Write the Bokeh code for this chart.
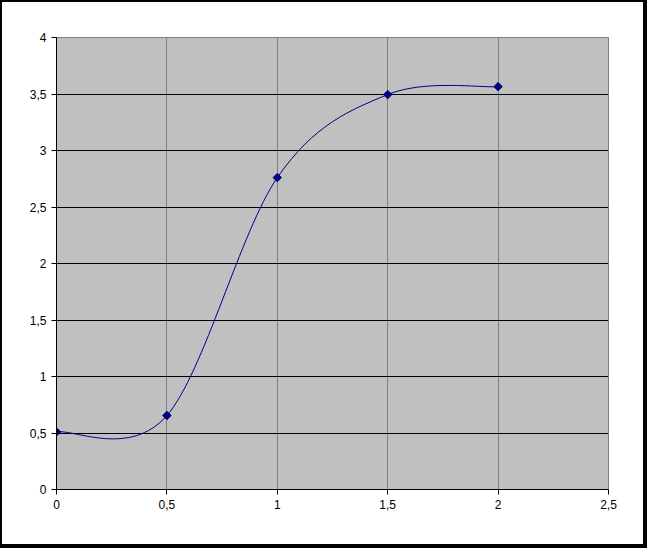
import numpy as np
from bokeh.plotting import figure
from bokeh.models import FixedTicker, Range1d
from bokeh.embed import file_html
from bokeh.resources import INLINE

# data
x_vals = [0.0, 0.5, 1.0, 1.5, 2.0]
y_vals = [0.51, 0.655, 2.76, 3.495, 3.565]
x_ticks = [0, 0.5, 1, 1.5, 2, 2.5]
x_tick_labels = ["0", "0,5", "1", "1,5", "2", "2,5"]
y_ticks = [0, 0.5, 1, 1.5, 2, 2.5, 3, 3.5, 4]
y_tick_labels = ["0", "0,5", "1", "1,5", "2", "2,5", "3", "3,5", "4"]

FONT = "Liberation Sans"
NAVY = "#000080"

p = figure(width=647, height=548, output_backend="svg", toolbar_location=None,
           x_range=Range1d(0, 2.5), y_range=Range1d(0, 4))
p.min_border_left = 54
p.min_border_right = 41
p.min_border_top = 35
p.min_border_bottom = 61
p.background_fill_color = "#C0C0C0"
p.border_fill_color = "white"
p.outline_line_color = "#808080"
p.outline_line_width = 1
p.styles = {"border-style": "solid", "border-color": "black",
            "border-width": "2px 4px 4px 2px"}

# axes
for ax in (p.xaxis[0], p.yaxis[0]):
    ax.axis_line_color = "black"
    ax.axis_line_width = 1
    ax.major_tick_line_color = "black"
    ax.major_tick_in = 0
    ax.major_tick_out = 5
    ax.minor_tick_line_color = None
    ax.major_label_text_font = FONT
    ax.major_label_text_font_size = "12px"
    ax.major_label_text_color = "black"
    ax.major_label_standoff = 5

p.xaxis.ticker = FixedTicker(ticks=x_ticks)
p.yaxis.ticker = FixedTicker(ticks=y_ticks)
p.xaxis.major_label_overrides = {t: l for t, l in zip(x_ticks, x_tick_labels)}
p.yaxis.major_label_overrides = {t: l for t, l in zip(y_ticks, y_tick_labels)}

p.xgrid.grid_line_color = "#808080"
p.xgrid.grid_line_width = 1
p.ygrid.grid_line_color = "black"
p.ygrid.grid_line_width = 1

# smoothed line (Catmull-Rom style Bezier segments through the data points)
xs = np.array(x_vals)
ys = np.array(y_vals)
n = len(xs)
x0, y0, x1, y1, cx0, cy0, cx1, cy1 = [], [], [], [], [], [], [], []
for i in range(n - 1):
    pm = i - 1 if i > 0 else i
    pp = i + 2 if i + 2 < n else i + 1
    x0.append(xs[i]); y0.append(ys[i])
    x1.append(xs[i + 1]); y1.append(ys[i + 1])
    cx0.append(xs[i] + (xs[i + 1] - xs[pm]) / 6)
    cy0.append(ys[i] + (ys[i + 1] - ys[pm]) / 6)
    cx1.append(xs[i + 1] - (xs[pp] - xs[i]) / 6)
    cy1.append(ys[i + 1] - (ys[pp] - ys[i]) / 6)

p.bezier(x0=x0, y0=y0, x1=x1, y1=y1, cx0=cx0, cy0=cy0, cx1=cx1, cy1=cy1,
         line_color=NAVY, line_width=1)

p.scatter(x=x_vals, y=y_vals, marker="square", angle=np.pi / 4, size=6,
          fill_color=NAVY, line_color=NAVY)

open("out.html", "w").write(file_html(p, INLINE))
